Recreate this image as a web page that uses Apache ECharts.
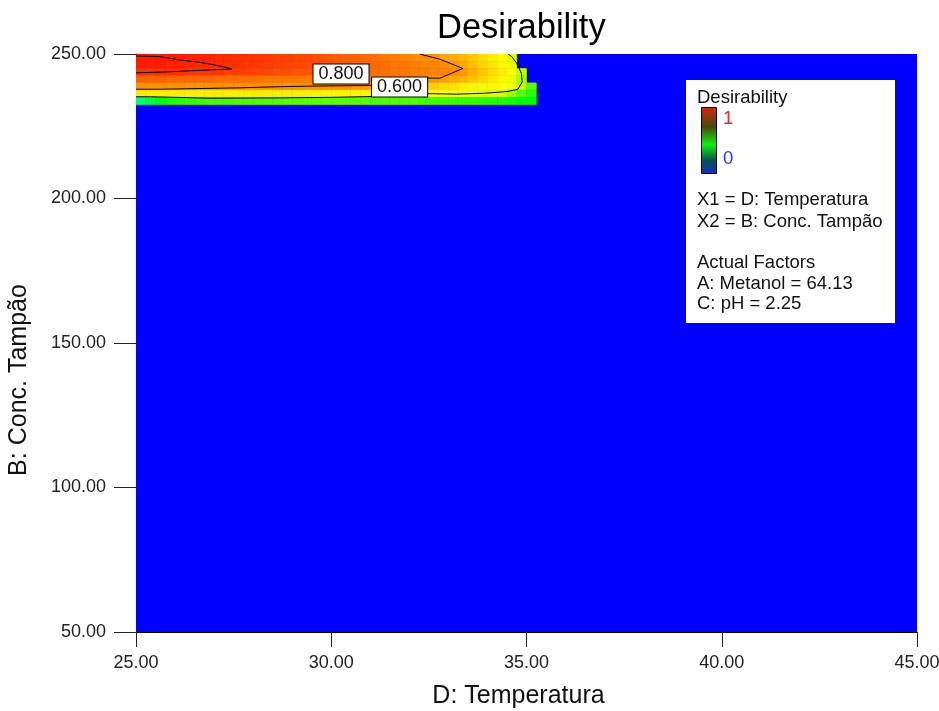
<!DOCTYPE html>
<html>
<head>
<meta charset="utf-8">
<title>Desirability</title>
<script src="https://cdn.jsdelivr.net/npm/echarts@6/dist/echarts.min.js"></script>
<style>
  html, body { margin: 0; padding: 0; background: #ffffff; }
  #chart { width: 939px; height: 711px; }
</style>
</head>
<body>
<div id="chart"></div>
<script>
// Axis ticks
const tempTicks = [25, 30, 35, 40, 45];
const concTicks = [50, 100, 150, 200, 250];

// Grid cell edges (D: Temperatura columns, B: Conc. Tampão rows)
const tempEdges = [25.00, 25.25, 25.50, 25.75, 26.00, 26.25, 26.50, 26.75, 27.00, 27.25,
  27.50, 27.75, 28.00, 28.25, 28.50, 28.75, 29.00, 29.25, 29.50, 29.75,
  30.00, 30.25, 30.50, 30.75, 31.00, 31.25, 31.50, 31.75, 32.00, 32.25,
  32.50, 32.75, 33.00, 33.25, 33.50, 33.75, 34.00, 34.25, 34.50, 34.75,
  35.00, 35.25];
const concEdges = [250, 247.5, 245, 242.5, 240, 237.5, 235, 232.5];

// Desirability per row (top row first); cells not listed are 0
const dRow1 = [0.96, 0.96, 0.96, 0.96, 0.96, 0.95, 0.95, 0.95, 0.94, 0.94, 0.93,
  0.93, 0.92, 0.92, 0.91, 0.91, 0.90, 0.90, 0.89, 0.88,
  0.87, 0.86, 0.86, 0.85, 0.84, 0.83, 0.82, 0.81, 0.80, 0.80,
  0.79, 0.76, 0.74, 0.72, 0.69, 0.66, 0.63, 0.60, 0.57];
const dRow2 = [0.96, 0.96, 0.96, 0.95, 0.95, 0.95, 0.94, 0.94, 0.94, 0.93, 0.93,
  0.92, 0.92, 0.91, 0.91, 0.90, 0.90, 0.89, 0.89, 0.88,
  0.87, 0.87, 0.86, 0.85, 0.85, 0.84, 0.83, 0.83, 0.82, 0.81,
  0.81, 0.80, 0.78, 0.75, 0.71, 0.67, 0.64, 0.61, 0.58];
const dRow3 = [0.93, 0.93, 0.93, 0.93, 0.93, 0.92, 0.92, 0.92, 0.92, 0.91, 0.91,
  0.91, 0.90, 0.90, 0.89, 0.89, 0.88, 0.88, 0.87, 0.87,
  0.86, 0.86, 0.85, 0.85, 0.84, 0.84, 0.83, 0.83, 0.82, 0.82,
  0.81, 0.81, 0.80, 0.78, 0.74, 0.70, 0.66, 0.63, 0.60, 0.55];
const dRow4 = [0.86, 0.86, 0.86, 0.85, 0.85, 0.85, 0.85, 0.85, 0.84, 0.84, 0.84,
  0.84, 0.84, 0.83, 0.83, 0.83, 0.83, 0.82, 0.82, 0.82,
  0.82, 0.81, 0.81, 0.81, 0.81, 0.80, 0.80, 0.80, 0.80, 0.79,
  0.78, 0.77, 0.75, 0.73, 0.70, 0.67, 0.64, 0.61, 0.58, 0.53];
const dRow5 = [0.79, 0.79, 0.79, 0.79, 0.79, 0.79, 0.79, 0.79, 0.79, 0.79, 0.79,
  0.79, 0.79, 0.79, 0.79, 0.79, 0.79, 0.79, 0.79, 0.79,
  0.79, 0.79, 0.78, 0.78, 0.77, 0.76, 0.75, 0.73, 0.72, 0.70,
  0.68, 0.66, 0.65, 0.63, 0.62, 0.61, 0.61, 0.60, 0.59, 0.55, 0.47];
const dRow6 = [0.63, 0.63, 0.63, 0.63, 0.63, 0.63, 0.63, 0.63, 0.63, 0.63, 0.63,
  0.63, 0.63, 0.63, 0.63, 0.63, 0.63, 0.63, 0.62, 0.62,
  0.62, 0.62, 0.62, 0.62, 0.62, 0.61, 0.61, 0.61, 0.61, 0.60,
  0.60, 0.60, 0.59, 0.59, 0.59, 0.58, 0.58, 0.57, 0.52, 0.47, 0.43];
const dRow7 = [0.31, 0.35, 0.39, 0.42, 0.43, 0.44, 0.44, 0.45, 0.45, 0.45, 0.46,
  0.46, 0.46, 0.46, 0.46, 0.47, 0.47, 0.47, 0.47, 0.47,
  0.47, 0.47, 0.47, 0.47, 0.46, 0.46, 0.46, 0.46, 0.46, 0.45,
  0.45, 0.45, 0.45, 0.44, 0.44, 0.43, 0.43, 0.42, 0.41, 0.40, 0.40];
const desirabilityRows = [dRow1, dRow2, dRow3, dRow4, dRow5, dRow6, dRow7];

// Contour paths [temperature, concentration]
const contourTop = [[25.0, 249.3], [25.61, 249.1], [26.13, 247.9], [26.55, 247.3], [26.9, 246.5],
  [27.23, 245.6], [27.46, 244.8], [26.38, 244.2], [25.79, 243.8], [25.0, 243.5]];
const contour080 = [[25.0, 237.8], [25.59, 237.8], [25.63, 238.3], [27.66, 238.3], [28.69, 238.7],
  [29.53, 238.9], [30.97, 239.1], [31.8, 240.3], [32.45, 241.7], [32.78, 241.6], [33.37, 245.0],
  [32.78, 248.2], [32.4, 249.5], [32.27, 250.0]];
const contour060 = [[25.0, 235.2], [25.38, 235.2], [25.42, 234.9], [26.9, 234.7], [28.5, 234.8],
  [30.0, 235.0], [31.1, 235.3], [32.45, 236.3], [33.2, 236.1], [33.9, 236.4], [34.5, 237.0],
  [34.78, 237.8], [34.89, 240.3], [34.87, 243.3], [34.75, 246.8], [34.62, 249.1], [34.53, 250.0]];

// Contour level labels [temperature, concentration, level]
const contourLabels = [[30.25, 243.1, 0.8], [31.75, 238.6, 0.6]];

// Legend text
const legendTitle = 'Desirability';
const legendLines = [
  ['X1 = D: Temperatura', 200],
  ['X2 = B: Conc. Tampão', 222],
  ['Actual Factors', 263],
  ['A: Metanol = 64.13', 283.5],
  ['C: pH = 2.25', 304]
];

// Build cells: the whole design space at 0, then the non-zero rows on top
const cells = [[tempTicks[0], tempTicks[tempTicks.length - 1], concTicks[0], concTicks[concTicks.length - 1], 0]];
desirabilityRows.forEach(function (row, r) {
  row.forEach(function (v, c) {
    cells.push([tempEdges[c], tempEdges[c + 1], concEdges[r + 1], concEdges[r], v]);
  });
});

const FONT = '"Liberation Sans", Arial, sans-serif';
const chart = echarts.init(document.getElementById('chart'), null, { renderer: 'canvas' });

const legendFont = '18.5px ' + FONT;
const legendGraphics = [
  { type: 'rect', x: 686, y: 80, shape: { width: 209, height: 243 }, style: { fill: '#ffffff' }, z: 10 },
  { type: 'text', x: 697, y: 97.5, z: 11,
    style: { text: legendTitle, fill: '#111', font: legendFont, align: 'left', verticalAlign: 'middle' } },
  { type: 'rect', x: 701.5, y: 107.5, shape: { width: 15, height: 66 }, z: 11,
    style: {
      stroke: '#000', lineWidth: 1,
      fill: { type: 'linear', x: 0, y: 0, x2: 0, y2: 1, colorStops: [
        { offset: 0, color: '#cc2a10' }, { offset: 0.3, color: '#4a4a0a' },
        { offset: 0.56, color: '#10f010' }, { offset: 0.8, color: '#0a5050' },
        { offset: 1, color: '#1030c0' }] }
    } },
  { type: 'text', x: 723, y: 118.5, z: 11,
    style: { text: '1', fill: '#ff2020', font: legendFont, align: 'left', verticalAlign: 'middle' } },
  { type: 'text', x: 723, y: 158.5, z: 11,
    style: { text: '0', fill: '#3030ff', font: legendFont, align: 'left', verticalAlign: 'middle' } }
].concat(legendLines.map(function (l) {
  return { type: 'text', x: 697, y: l[1], z: 11,
    style: { text: l[0], fill: '#111', font: legendFont, align: 'left', verticalAlign: 'middle' } };
}));

const contourLine = function (data) {
  return {
    type: 'line', data: data, xAxisIndex: 0, yAxisIndex: 0,
    symbol: 'none', silent: true, z: 5, clip: true,
    lineStyle: { color: '#000', width: 1 }
  };
};

chart.setOption({
  animation: false,
  backgroundColor: '#ffffff',
  title: {
    text: 'Desirability', left: 437, top: 11, padding: 0,
    textStyle: { fontFamily: FONT, fontSize: 34.5, fontWeight: 'normal', color: '#000' }
  },
  grid: { left: 136, right: 22, top: 54, bottom: 79, containLabel: false, outerBoundsMode: 'none' },
  xAxis: [{
    type: 'value',
    min: tempTicks[0], max: tempTicks[tempTicks.length - 1], interval: tempTicks[1] - tempTicks[0],
    name: 'D: Temperatura', nameLocation: 'middle', nameGap: 52,
    nameTextStyle: { fontFamily: FONT, fontSize: 25, color: '#111', padding: [0, 16, 0, 0] },
    axisLine: { show: true, onZero: false, lineStyle: { color: '#000', width: 1 } },
    axisTick: { show: true, length: 15, inside: false, lineStyle: { color: '#222' } },
    axisLabel: { margin: 22, fontFamily: FONT, fontSize: 18, color: '#222',
      formatter: function (v) { return v.toFixed(2); } },
    splitLine: { show: false }
  }, {
    type: 'value', position: 'top',
    min: tempTicks[0], max: tempTicks[tempTicks.length - 1],
    axisLine: { show: true, onZero: false, lineStyle: { color: '#666', width: 1 } },
    axisTick: { show: false }, axisLabel: { show: false }, splitLine: { show: false }
  }],
  yAxis: {
    type: 'value',
    min: concTicks[0], max: concTicks[concTicks.length - 1], interval: concTicks[1] - concTicks[0],
    name: 'B: Conc. Tampão', nameLocation: 'middle', nameGap: 104, nameRotate: 90,
    nameTextStyle: { fontFamily: FONT, fontSize: 25, color: '#111', padding: [0, 74, 0, 0] },
    axisLine: { show: true, onZero: false, lineStyle: { color: '#000', width: 1 } },
    axisTick: { show: true, length: 22, inside: false, lineStyle: { color: '#222' } },
    axisLabel: { margin: 30, fontFamily: FONT, fontSize: 18, color: '#222',
      formatter: function (v) { return v.toFixed(2); } },
    splitLine: { show: false }
  },
  visualMap: {
    show: false, type: 'continuous', min: 0, max: 1, dimension: 4, seriesIndex: 0,
    inRange: { color: ['#0000ff', '#00ffff', '#00ff00', '#ffff00', '#ff8c00', '#ff0000'] }
  },
  series: [
    {
      type: 'custom', data: cells, xAxisIndex: 0, yAxisIndex: 0, clip: true, silent: true, z: 1,
      encode: { x: [0, 1], y: [2, 3] },
      renderItem: function (params, api) {
        const p0 = api.coord([api.value(0), api.value(3)]);
        const p1 = api.coord([api.value(1), api.value(2)]);
        const color = api.visual('color');
        return {
          type: 'rect',
          shape: { x: p0[0], y: p0[1], width: p1[0] - p0[0], height: p1[1] - p0[1] },
          style: { fill: color, stroke: color, lineWidth: 0.6 }
        };
      }
    },
    contourLine(contourTop),
    contourLine(contour080),
    contourLine(contour060),
    {
      type: 'scatter', data: contourLabels, xAxisIndex: 0, yAxisIndex: 0,
      symbolSize: 0, silent: true, z: 8,
      itemStyle: { opacity: 1 },
      label: {
        show: true, position: 'inside', opacity: 1,
        formatter: function (p) { return p.value[2].toFixed(3); },
        fontFamily: FONT, fontSize: 18, color: '#111',
        backgroundColor: '#ffffff', borderColor: '#000', borderWidth: 1,
        padding: [1, 5, 0, 5]
      }
    }
  ],
  graphic: legendGraphics
});
</script>
</body>
</html>
